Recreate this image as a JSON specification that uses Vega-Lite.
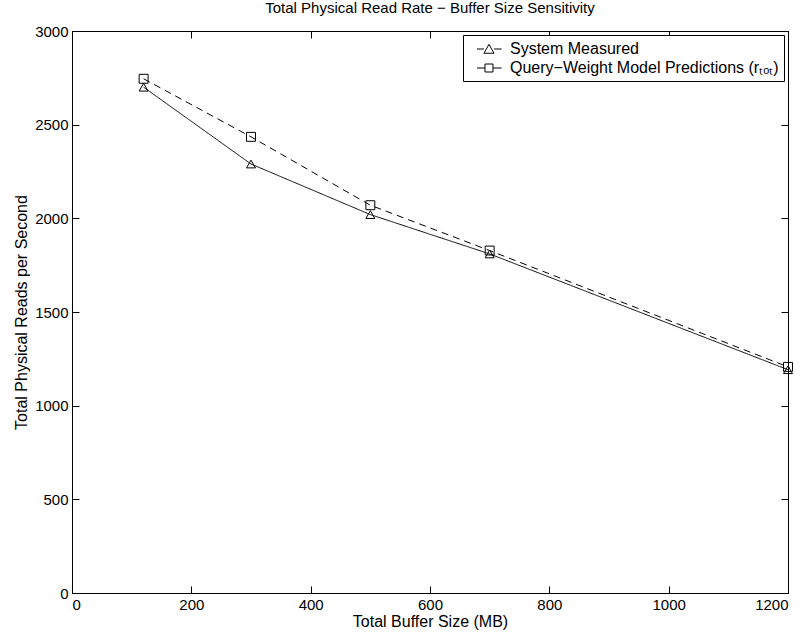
{
  "$schema": "https://vega.github.io/schema/vega-lite/v6.json",
  "autosize": "none",
  "width": 716,
  "height": 562,
  "padding": {"left": 72, "top": 31, "right": 18, "bottom": 46},
  "background": "white",
  "title": {"text": "Total Physical Read Rate − Buffer Size Sensitivity", "font": "Liberation Sans", "fontSize": 15, "fontWeight": "normal", "color": "black", "offset": 8},
  "config": {
    "view": {"stroke": "black", "strokeWidth": 1},
    "axis": {"labelFont": "Liberation Sans", "labelFontSize": 15, "labelColor": "black", "titleFont": "Liberation Sans", "titleFontSize": 16, "titleFontWeight": "normal", "titleColor": "black", "domainColor": "black", "tickColor": "black", "grid": false, "tickSize": -7, "labelPadding": 11, "format": "d"}
  },
  "data": {"values": [
    {"size": 120, "series": "System Measured", "reads": 2700},
    {"size": 300, "series": "System Measured", "reads": 2290},
    {"size": 500, "series": "System Measured", "reads": 2020},
    {"size": 700, "series": "System Measured", "reads": 1810},
    {"size": 1200, "series": "System Measured", "reads": 1192},
    {"size": 120, "series": "Query−Weight Model Predictions (rₜₒₜ)", "reads": 2745},
    {"size": 300, "series": "Query−Weight Model Predictions (rₜₒₜ)", "reads": 2435},
    {"size": 500, "series": "Query−Weight Model Predictions (rₜₒₜ)", "reads": 2070},
    {"size": 700, "series": "Query−Weight Model Predictions (rₜₒₜ)", "reads": 1828},
    {"size": 1200, "series": "Query−Weight Model Predictions (rₜₒₜ)", "reads": 1207}
  ]},
  "resolve": {"scale": {"shape": "independent"}, "axis": {"x": "independent", "y": "independent"}},
  "layer": [
    {
      "mark": {"type": "line", "color": "black", "strokeWidth": 1},
      "encoding": {
        "x": {"field": "size", "type": "quantitative", "scale": {"domain": [0, 1200], "nice": false}, "axis": {"title": "Total Buffer Size (MB)", "orient": "bottom", "values": [0, 200, 400, 600, 800, 1000, 1200], "titlePadding": 1}},
        "y": {"field": "reads", "type": "quantitative", "scale": {"domain": [0, 3000], "nice": false}, "axis": {"title": "Total Physical Reads per Second", "orient": "left", "values": [0, 500, 1000, 1500, 2000, 2500, 3000], "titlePadding": 5}},
        "strokeDash": {"field": "series", "type": "nominal", "scale": {"domain": ["System Measured", "Query−Weight Model Predictions (rₜₒₜ)"], "range": [[1, 0], [7, 5]]}, "legend": null}
      }
    },
    {
      "mark": {"type": "point", "color": "black", "filled": false, "strokeWidth": 1, "size": 80, "opacity": 1},
      "encoding": {
        "x": {"field": "size", "type": "quantitative", "axis": {"orient": "top", "labels": false, "title": null, "values": [0, 200, 400, 600, 800, 1000, 1200]}},
        "y": {"field": "reads", "type": "quantitative", "axis": {"orient": "right", "labels": false, "title": null, "values": [0, 500, 1000, 1500, 2000, 2500, 3000]}},
        "shape": {"field": "series", "type": "nominal", "scale": {"domain": ["System Measured", "Query−Weight Model Predictions (rₜₒₜ)"], "range": ["triangle-up", "square"]}, "legend": null}
      }
    },
    {
      "mark": {"type": "point", "color": "black", "filled": false, "strokeWidth": 1, "opacity": 0},
      "encoding": {
        "x": {"field": "size", "type": "quantitative", "axis": null},
        "y": {"field": "reads", "type": "quantitative", "axis": null},
        "shape": {"field": "series", "type": "nominal", "scale": {"domain": ["System Measured", "Query−Weight Model Predictions (rₜₒₜ)"], "range": ["M0,0H0.82M2,0H2.9M1.41,-0.55L2,0.5L0.82,0.5Z", "M0,0H0.94M1.88,0H2.9M0.94,-0.47H1.88V0.47H0.94Z"]},
          "legend": {"title": null, "orient": "top-right", "offset": 4, "symbolSize": 289, "symbolOpacity": 1, "symbolStrokeColor": "black", "symbolStrokeWidth": 1, "labelFont": "Liberation Sans", "labelFontSize": 16, "labelColor": "black", "strokeColor": "black", "fillColor": "white", "padding": 5, "rowPadding": 2, "labelOffset": 24, "labelLimit": 400}}
      }
    }
  ]
}
